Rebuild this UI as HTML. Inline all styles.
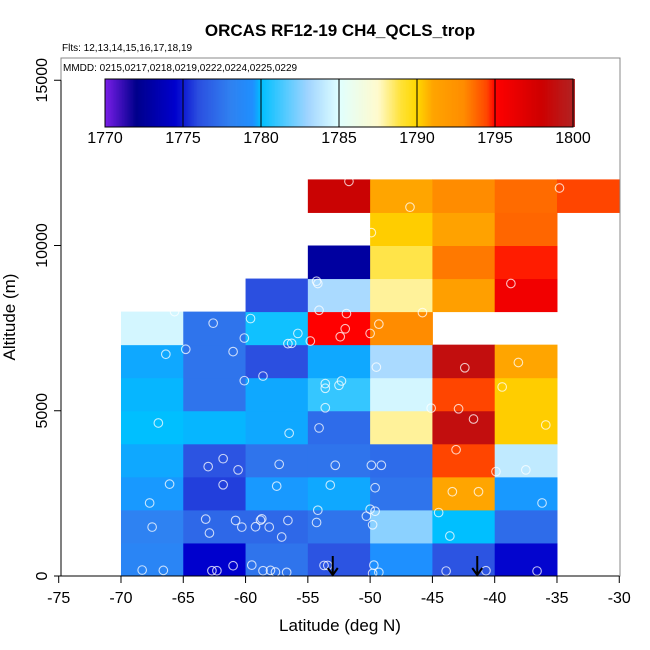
<!DOCTYPE html>
<html><head><meta charset="utf-8"><style>
body{margin:0;background:#fff;}
svg{display:block;font-family:"Liberation Sans",sans-serif;}
</style></head><body>
<svg id="chart" width="650" height="650" viewBox="0 0 650 650" xmlns="http://www.w3.org/2000/svg">
<rect width="650" height="650" fill="#fff"/>
<g id="cells"></g>
<g id="pts"></g>
<g id="cbar"></g>
<g id="axes"></g>
<text x="340" y="36" text-anchor="middle" font-size="17" font-weight="bold">ORCAS RF12-19 CH4_QCLS_trop</text>
<text x="62" y="51" font-size="10">Flts: 12,13,14,15,16,17,18,19</text>
<text x="63" y="71" font-size="10">MMDD: 0215,0217,0218,0219,0222,0224,0225,0229</text>
<text x="340" y="631" text-anchor="middle" font-size="17">Latitude (deg N)</text>
<text transform="translate(15,317) rotate(-90)" text-anchor="middle" font-size="17">Altitude (m)</text>
</svg>
<script>
// ---- data ----
const latBins = [-70,-65,-60,-55,-50,-45,-40,-35];
const altBins = [0,1000,2000,3000,4000,5000,6000,7000,8000,9000,10000,11000];
// rows by altitude bin; columns by lat bin; null = no data
const ch4Rows = [
 [1778.5,1774.5,1777.5,1776.2,1779.5,1776.2,1774.6,null],
 [1778.2,1777.0,1777.0,1777.5,1782.6,1780.0,1777.2,null],
 [1779.6,1775.7,1779.6,1779.75,1777.5,1791.0,1779.6,null],
 [1779.75,1776.2,1777.5,1777.5,1777.2,1794.5,1784.0,null],
 [1780.0,1779.9,1779.75,1777.2,1788.0,1798.8,1790.2,null],
 [1779.9,1777.5,1779.75,1781.0,1784.6,1794.5,1790.2,null],
 [1779.75,1777.5,1776.0,1779.75,1783.3,1798.8,1791.0,null],
 [1784.6,1777.5,1780.3,1795.0,1793.0,null,null,null],
 [null,null,1776.0,1783.3,1788.0,1791.5,1795.8,null],
 [null,null,null,1772.8,1788.8,1793.4,1794.8,null],
 [null,null,null,null,1790.2,1791.2,1793.8,null],
 [null,null,null,1798.2,1791.0,1793.0,1793.7,1794.5]
];
const ptLat = [-51.7,-46.8,-49.9,-34.8,-54.3,-54.2,-38.7,-65.7,-54.1,-51.9,-45.8,-62.6,-59.6,-49.3,-52,-52.4,-50,-55.8,-60.1,-54.8,-56.6,-56.3,-64.8,-61,-66.4,-42.4,-38.1,-49.5,-58.6,-60.1,-53.6,-53.6,-52.3,-52.5,-53.6,-45.1,-42.9,-39.4,-41.7,-35.9,-67,-56.5,-54.1,-43.1,-61.8,-63,-60.6,-57.3,-52.8,-49.9,-49.1,-39.9,-37.5,-66.1,-67.7,-61.8,-57.5,-53.2,-49.6,-43.4,-41.3,-36.2,-54.2,-50,-49.6,-50.3,-49.8,-54.3,-44.5,-43.6,-67.5,-63.2,-62.9,-60.8,-60.3,-59.2,-58.8,-58.7,-58.1,-56.6,-57.1,-68.3,-66.6,-62.7,-62.3,-61,-59.5,-58.6,-58,-57.6,-56.7,-53.7,-53.4,-49.7,-49.8,-49.3,-43.9,-40.7,-36.6];
const ptAlt = [11940,11160,10390,11740,8920,8850,8850,8000,8040,7940,7970,7650,7790,7620,7480,7240,7340,7340,7200,7110,7030,7040,6860,6790,6710,6300,6460,6320,6050,5910,5820,5680,5900,5770,5090,5080,5060,5720,4750,4570,4630,4320,4480,3820,3550,3310,3210,3380,3350,3350,3350,3160,3210,2780,2210,2760,2720,2750,2670,2550,2550,2210,1990,2020,1960,1810,1550,1620,1920,1210,1480,1720,1300,1680,1480,1490,1690,1730,1480,1680,1180,180,170,160,160,310,330,160,170,120,110,320,320,330,80,110,150,160,150];
const arrowLats = [-53,-41.4];
const xTicks = [-75,-70,-65,-60,-55,-50,-45,-40,-35,-30];
const yTicks = [0,5000,10000,15000];
const cbTicks = [1770,1775,1780,1785,1790,1795,1800];

// ---- scales ----
const NS='http://www.w3.org/2000/svg';
const X = v => 58.7 + (v+75)*12.457;
const Y = v => 576 - v*0.03305;
const CB = v => 105 + (v-1770)*(468/30);
const stops=[[1770,'#7a1ee8'],[1772,'#00008b'],[1774.5,'#0000cd'],[1776,'#2b4fe0'],[1778,'#3080f0'],[1779.5,'#1e90ff'],[1780,'#00bfff'],[1783,'#a0d4ff'],[1785,'#e0ffff'],[1787.5,'#fffacd'],[1789,'#ffe135'],[1790,'#ffd700'],[1791,'#ffa500'],[1793,'#ff8c00'],[1794.5,'#ff4500'],[1795,'#ff0000'],[1798,'#cd0000'],[1800,'#b22222']];
function hex(h){return [1,3,5].map(i=>parseInt(h.substr(i,2),16));}
function cmap(v){
 if(v<=stops[0][0]) return stops[0][1];
 for(let i=1;i<stops.length;i++){ if(v<=stops[i][0]){const a=hex(stops[i-1][1]),b=hex(stops[i][1]);const t=(v-stops[i-1][0])/(stops[i][0]-stops[i-1][0]);return 'rgb('+a.map((c,k)=>Math.round(c+(b[k]-c)*t)).join(',')+')';}}
 return stops[stops.length-1][1];
}
function mk(tag,attrs,parent){const e=document.createElementNS(NS,tag);for(const k in attrs)e.setAttribute(k,attrs[k]);parent.appendChild(e);return e;}

// cells
const gc=document.getElementById('cells');
ch4Rows.forEach((row,r)=>row.forEach((v,c)=>{
 if(v===null) return;
 const e=mk('rect',{x:X(latBins[c]),y:Y(altBins[r]+1000),width:X(latBins[c]+5)-X(latBins[c])+0.5,height:Y(altBins[r])-Y(altBins[r]+1000)+0.5,fill:cmap(v)},gc);
 
 
}));
// points
const gp=document.getElementById('pts');
ptLat.forEach((la,i)=>{
 const e=mk('circle',{cx:X(la),cy:Y(ptAlt[i]),r:4.3,fill:'none',stroke:'rgba(255,255,255,0.75)','stroke-width':1.1},gp);
 
 
});
// axes
const ga=document.getElementById('axes');
const box=mk('rect',{x:61,y:58,width:559,height:518,fill:'none',stroke:'#888','stroke-width':1},ga);


mk('line',{x1:X(-75),x2:X(-30),y1:576,y2:576,stroke:'#000'},ga);
xTicks.forEach(t=>{
 mk('line',{x1:X(t),x2:X(t),y1:576,y2:583,stroke:'#000'},ga);
 const tx=mk('text',{x:X(t),y:603,'text-anchor':'middle','font-size':16},ga);
 tx.textContent=t;
 
 
});
mk('line',{x1:61,x2:61,y1:Y(0),y2:Y(15000),stroke:'#000'},ga);
yTicks.forEach(t=>{
 mk('line',{x1:54,x2:61,y1:Y(t),y2:Y(t),stroke:'#000'},ga);
 const tx=mk('text',{transform:'translate(47,'+Y(t)+') rotate(-90)','text-anchor':'middle','font-size':16},ga);
 tx.textContent=t;
 
 
});
arrowLats.forEach(la=>{
 const g=mk('g',{},ga);
 
 
 mk('line',{x1:X(la),x2:X(la),y1:556,y2:575,stroke:'#000','stroke-width':2},g);
 mk('polyline',{points:(X(la)-5)+',568 '+X(la)+',575 '+(X(la)+5)+',568',fill:'none',stroke:'#000','stroke-width':2},g);
});
// colorbar
const gb=document.getElementById('cbar');
for(let v=1770;v<1800;v+=0.1){
 mk('rect',{x:CB(v),y:79,width:CB(v+0.1)-CB(v)+0.4,height:48,fill:cmap(v+0.05)},gb);
}
cbTicks.forEach(t=>{
 mk('line',{x1:CB(t),x2:CB(t),y1:79,y2:127,stroke:'#000','stroke-width':1},gb);
 const tx=mk('text',{x:CB(t),y:143,'text-anchor':'middle','font-size':16},gb);
 tx.textContent=t;
 
 
});
mk('rect',{x:105,y:79,width:468,height:48,fill:'none',stroke:'#000','stroke-width':1},gb);
</script>
</body></html>
